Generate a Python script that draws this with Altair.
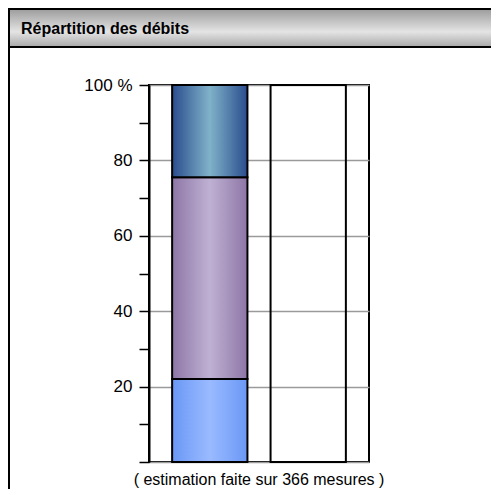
import altair as alt
import pandas as pd

# ---- data ----
categories = ["Débits", "Vide"]
segment_names = ["classe basse", "classe moyenne", "classe haute"]
segment_shares = [22.0, 53.5, 24.5]
outline_total = [100.0]
title_text = "Répartition des débits"
note_text = "( estimation faite sur 366 mesures )"

seg = pd.DataFrame({"cat": categories[0], "segment": segment_names, "share": segment_shares})
seg["end"] = seg["share"].cumsum()
seg["start"] = seg["end"] - seg["share"]
outline = pd.DataFrame({"cat": [categories[1]], "start": [0.0], "end": outline_total})
one = pd.DataFrame({"k": [0]})

gradients = [
    ["#6a98f6", "#9abaff", "#6a98f6"],
    ["#8e76a6", "#bfb1d3", "#8e76a6"],
    ["#2a4d8e", "#80b2c9", "#2a4d8e"],
]

xscale = alt.Scale(domain=categories, paddingInner=0.235, paddingOuter=0.235)
yscale = alt.Scale(domain=[0, 100], nice=False)

yaxis = alt.Axis(
    values=list(range(0, 101, 10)),
    labelExpr="datum.value == 100 ? '100 %' : (datum.value % 20 == 0 && datum.value > 0 ? datum.label : '')",
    title=None,
    tickSize=10,
    tickColor="black",
    tickWidth=1.5,
    domainColor="black",
    domainWidth=2,
    labelFont="Liberation Sans",
    labelFontSize=17,
    labelColor="black",
    labelPadding=7,
    grid=True,
    gridColor="#9a9a9a",
    gridWidth=1.5,
    gridOpacity={"condition": {"test": "datum.value % 20 === 0", "value": 1}, "value": 0},
)

frame = alt.Chart(one).mark_rect(fillOpacity=0, stroke="black", strokeWidth=2, clip=False).encode(
    x=alt.value(-140), x2=alt.value(1000), y=alt.value(-76), y2=alt.value(1000)
)
titlebar = alt.Chart(one).mark_rect(
    stroke="black", strokeWidth=2, clip=False,
    fill=alt.Gradient(gradient="linear", x1=0, x2=0, y1=0, y2=1,
                      stops=[alt.GradientStop(color="#9c9c9c", offset=0),
                             alt.GradientStop(color="#e4e4e4", offset=0.6),
                             alt.GradientStop(color="#a8a8a8", offset=1)]),
).encode(x=alt.value(-140), x2=alt.value(1000), y=alt.value(-76), y2=alt.value(-38))
title = alt.Chart(one).mark_text(
    text=title_text, font="Liberation Sans", fontSize=16, fontWeight="bold",
    align="left", baseline="alphabetic", color="black",
).encode(x=alt.value(-128), y=alt.value(-51))

layers = [frame, titlebar, title]
for i, name in enumerate(segment_names):
    g = gradients[i]
    layer = alt.Chart(seg[seg["segment"] == name]).mark_bar(
        stroke="black", strokeWidth=2,
        fill=alt.Gradient(gradient="linear", x1=0, x2=1, y1=0, y2=0,
                          stops=[alt.GradientStop(color=g[0], offset=0),
                                 alt.GradientStop(color=g[1], offset=0.5),
                                 alt.GradientStop(color=g[2], offset=1)]),
    ).encode(
        x=alt.X("cat:N", scale=xscale, axis=None),
        y=alt.Y("start:Q", scale=yscale, axis=yaxis),
        y2="end:Q",
    )
    layers.append(layer)

outline_bar = alt.Chart(outline).mark_bar(fillOpacity=0, stroke="black", strokeWidth=2).encode(
    x=alt.X("cat:N", scale=xscale, axis=None),
    y=alt.Y("start:Q", scale=yscale, axis=yaxis),
    y2="end:Q",
)
note = alt.Chart(one).mark_text(
    text=note_text, font="Liberation Sans", fontSize=16, align="center",
    baseline="alphabetic", color="black",
).encode(x=alt.value(110), y=alt.value(400))
layers += [outline_bar, note]

chart = alt.layer(*layers).properties(
    width=220, height=377,
    autosize=alt.AutoSizeParams(type="none"),
    padding={"left": 141, "top": 77, "right": 122, "bottom": 27},
).configure_view(stroke="black", strokeWidth=2)

chart.save("out.html", embed_options={"renderer": "svg", "actions": False})
